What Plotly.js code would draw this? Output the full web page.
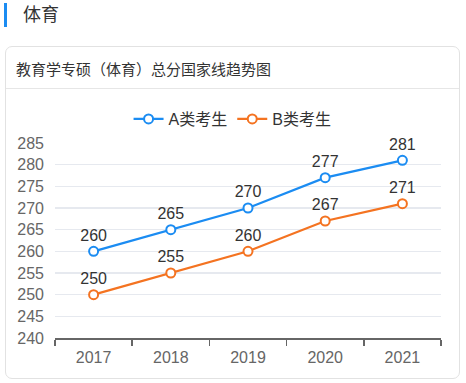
<!DOCTYPE html>
<html>
<head>
<meta charset="utf-8">
<script src="https://cdn.plot.ly/plotly-3.0.1.min.js"></script>
<style>
  html, body { margin: 0; padding: 0; background: #fff; width: 466px; height: 383px; overflow: hidden; font-family: "Liberation Sans", "Noto Sans CJK SC", sans-serif; }
  #bar { position: absolute; left: 4px; top: 3px; width: 3px; height: 24px; background: #1b8cf2; }
  #head { position: absolute; left: 23px; top: 2px; font-size: 18px; color: #333; line-height: 26px; }
  #card { position: absolute; left: 5px; top: 46px; width: 455px; height: 333px; border: 1px solid #e2e2e2; border-radius: 7px; box-sizing: border-box; }
  #ctitle { position: absolute; left: 16px; top: 59px; font-size: 15px; color: #333; line-height: 22px; }
  #sep { position: absolute; left: 6px; top: 88px; width: 453px; height: 1px; background: #e6e6e6; }
  #plot { position: absolute; left: 0; top: 0; width: 466px; height: 383px; }
</style>
</head>
<body>
<div id="bar"></div>
<div id="head">体育</div>
<div id="card"></div>
<div id="ctitle">教育学专硕（体育）总分国家线趋势图</div>
<div id="sep"></div>
<div id="plot"></div>
<script>
const years = ['2017', '2018', '2019', '2020', '2021'];
const seriesA = [260, 265, 270, 277, 281];
const seriesB = [250, 255, 260, 267, 271];
const nameA = 'A类考生';
const nameB = 'B类考生';
const yTicks = [240, 245, 250, 255, 260, 265, 270, 275, 280, 285];

const fontFam = '"Liberation Sans", "Noto Sans CJK SC", sans-serif';
function mk(name, vals, color) {
  return {
    type: 'scatter', mode: 'lines+markers+text', name: name,
    x: years, y: vals, text: vals.map(String),
    textposition: 'top center',
    textfont: { family: fontFam, size: 16, color: '#333' },
    line: { color: color, width: 2.2 },
    marker: { symbol: 'circle', size: 9, color: '#fff', line: { color: color, width: 2 } },
    cliponaxis: false, hoverinfo: 'none'
  };
}
const data = [mk(nameA, seriesA, '#1b8cf2'), mk(nameB, seriesB, '#f47321')];
const layout = {
  width: 466, height: 383,
  margin: { l: 55, r: 25, t: 143, b: 45 },
  paper_bgcolor: 'rgba(0,0,0,0)', plot_bgcolor: 'rgba(0,0,0,0)',
  font: { family: fontFam, color: '#666', size: 16 },
  showlegend: true,
  legend: { orientation: 'h', x: 0.46, xanchor: 'center', y: 1.123, yanchor: 'middle',
            font: { family: fontFam, size: 16, color: '#333' }, itemwidth: 30, bgcolor: 'rgba(0,0,0,0)' },
  xaxis: { type: 'category', range: [-0.5, 4.5], showgrid: false, showline: true, linecolor: '#666', linewidth: 1.5,
           ticks: 'outside', tickson: 'boundaries', ticklen: 6, tickcolor: '#666', tickwidth: 1.5,
           ticklabelstandoff: 4,
           tickfont: { size: 16, color: '#666' }, zeroline: false, fixedrange: true },
  yaxis: { range: [240, 285], tickvals: yTicks, ticktext: yTicks.map(String), showgrid: true, gridcolor: '#e6e9ef', gridwidth: 1.5,
           showline: false, zeroline: false, ticks: '', ticklabelstandoff: 10,
           tickfont: { size: 16, color: '#666' }, fixedrange: true }
};
Plotly.newPlot('plot', data, layout, { displayModeBar: false, staticPlot: true });
</script>
</body>
</html>
